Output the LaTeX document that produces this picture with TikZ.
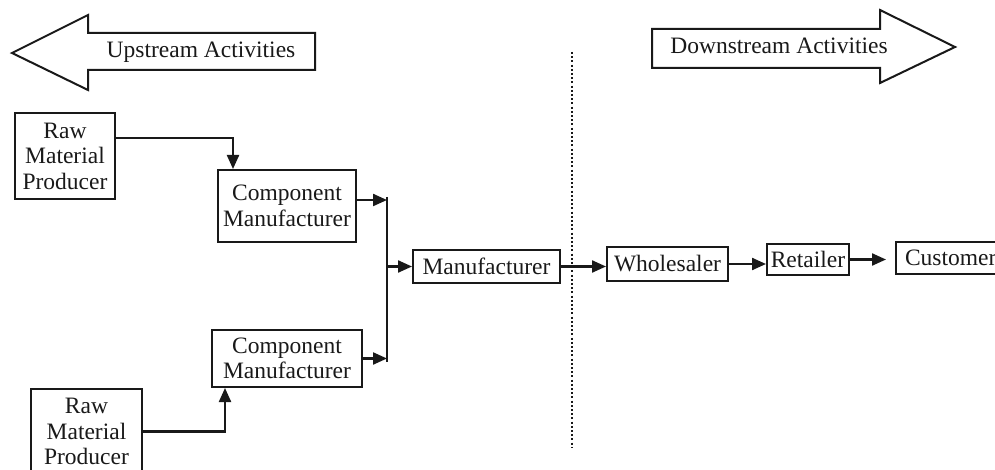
\documentclass[tikz,border=0pt]{standalone}
\usepackage{fontspec}
\setmainfont{Liberation Serif}
\usetikzlibrary{arrows.meta,calc}
\definecolor{ink}{rgb}{0.1,0.1,0.1}
\tikzset{
  box/.style={draw=ink, line width=2pt, text=ink, align=center, inner sep=0pt,
    font=\fontsize{23.5}{25.5}\selectfont},
  flow/.style={draw=ink, line width=2.2pt, -{Triangle[length=14pt,width=12pt]}},
  link/.style={draw=ink, line width=2.2pt},
  blockarrow/.style={draw=ink, line width=2pt, fill=white, line join=miter},
  caption/.style={text=ink, font=\fontsize{23.5}{25.5}\selectfont, inner sep=0pt},
  divider/.style={draw=ink, line width=2pt, dash pattern=on 2pt off 2.2pt}
}
\begin{document}
\begin{tikzpicture}[x=1pt,y=-1pt]
\useasboundingbox (0,0) rectangle (995,470);
\clip (0,0) rectangle (995,470);

% activity arrows
\draw[blockarrow] (12,53) -- (88,15) -- (88,33) -- (315,33) -- (315,70) -- (88,70) -- (88,90) -- cycle;
\node[caption] (up) at (201,52) {Upstream Activities};
\draw[blockarrow] (652,29) -- (880,29) -- (880,10) -- (955,47) -- (880,83) -- (880,68) -- (652,68) -- cycle;
\node[caption] (down) at (779,46) {Downstream Activities};

% boundary between upstream and downstream
\coordinate (dtop) at (572,52);
\coordinate (dbot) at (572,448);
\draw[divider] (dtop) -- (dbot);

% supply chain nodes
\node[box, minimum width=100pt, minimum height=86pt] (rm1) at (65,156) {Raw\\Material\\Producer};
\node[box, minimum width=138pt, minimum height=72pt] (comp1) at (287,206) {Component\\Manufacturer};
\node[box, minimum width=150pt, minimum height=57pt] (comp2) at (287,358.5) {Component\\Manufacturer};
\node[box, minimum width=111pt, minimum height=85pt] (rm2) at (86.5,431.5) {Raw\\Material\\Producer};
\node[box, minimum width=147pt, minimum height=33pt] (mfr) at (486.5,266.5) {Manufacturer};
\node[box, minimum width=121pt, minimum height=34pt] (whl) at (667.5,264) {Wholesaler};
\node[box, minimum width=82pt, minimum height=31pt] (ret) at (808,259.5) {Retailer};
\node[box, minimum width=116pt, minimum height=32pt, text width=110pt, align=left] (cust) at (954,258) {\hspace*{6pt}Customer};

% merge point of the two component lines
\coordinate (jtop) at (387,197);
\coordinate (jbot) at (387,362);
\draw[link] (jtop) -- (jbot);

% connectors
\draw[flow] ([yshift=18pt]rm1.east) -| ([xshift=-54pt]comp1.north);
\draw[flow] ([yshift=6pt]comp1.east) -- ([yshift=6pt]comp1.east -| jtop);
\draw[flow] (comp2.east) -- (comp2.east -| jtop);
\draw[flow] (rm2.east) -| ([xshift=-62pt]comp2.south);
\draw[flow] (mfr.west -| jtop) -- (mfr.west);
\draw[flow] (mfr.east) -- (mfr.east -| whl.west);
\draw[flow] (whl.east) -- (whl.east -| ret.west);
\draw[flow] (ret.east) -- ([xshift=-9pt]ret.east -| cust.west);
\end{tikzpicture}
\end{document}
